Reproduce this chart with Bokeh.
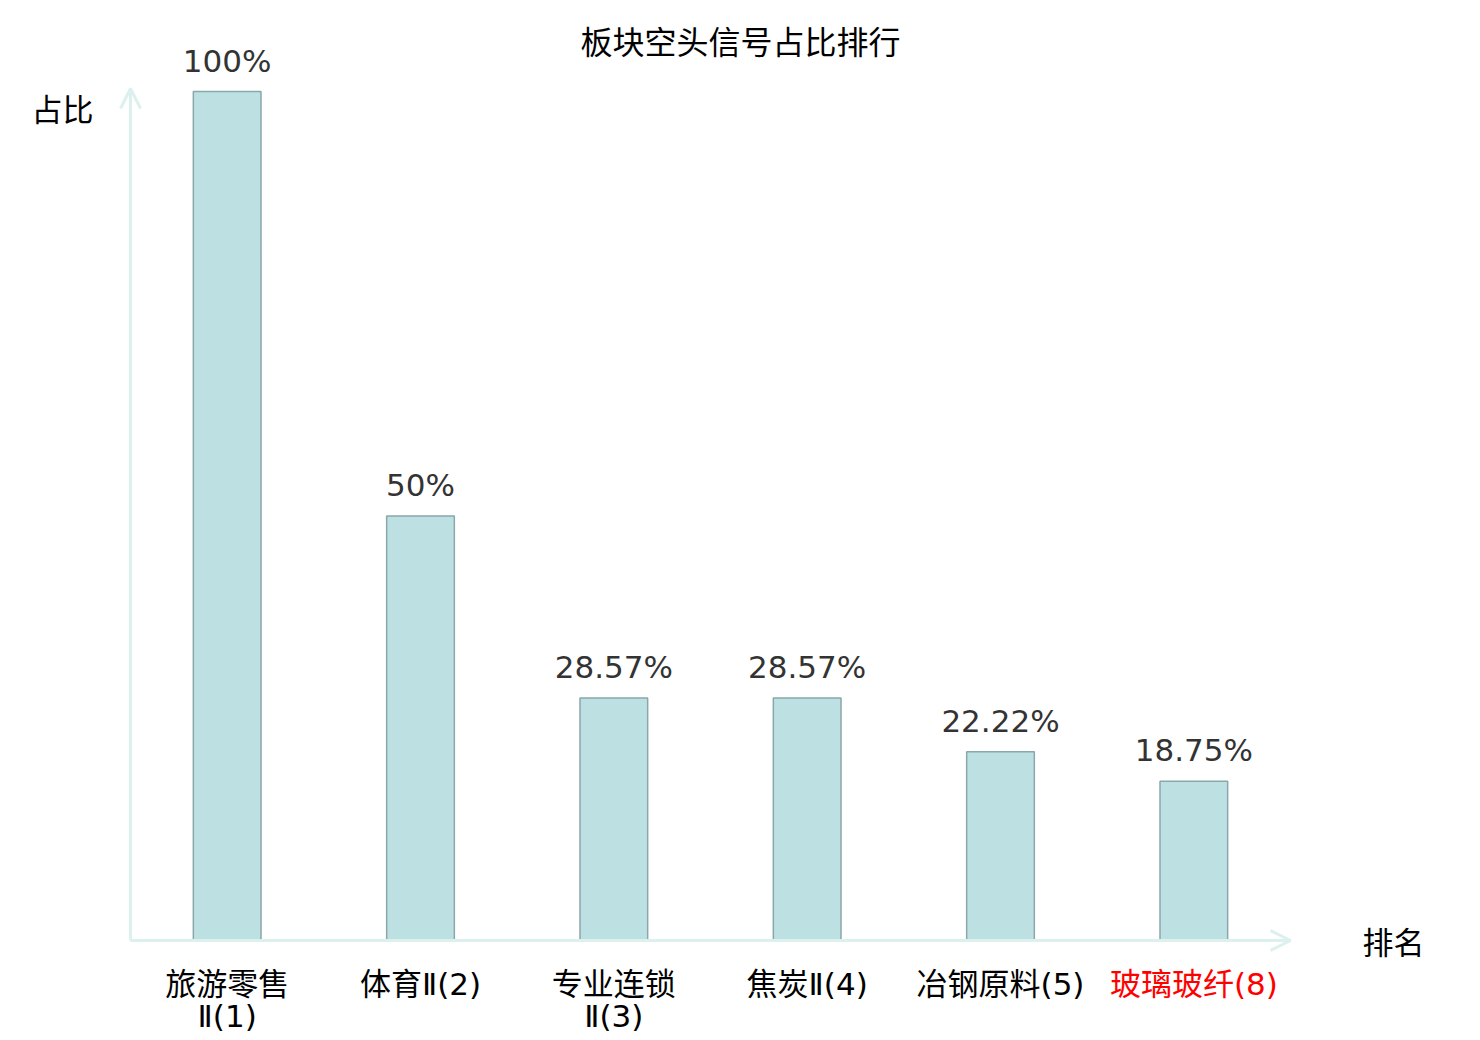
from bokeh.plotting import figure
from bokeh.models import ColumnDataSource, Arrow, OpenHead, Range1d
from bokeh.core.properties import value
from bokeh.embed import file_html
from bokeh.resources import INLINE

categories = ["旅游零售\nⅡ(1)", "体育Ⅱ(2)", "专业连锁\nⅡ(3)", "焦炭Ⅱ(4)", "冶钢原料(5)", "玻璃玻纤(8)"]
values = [100, 50, 28.57, 28.57, 22.22, 18.75]
value_labels = ["100%", "50%", "28.57%", "28.57%", "22.22%", "18.75%"]
label_colors = ["#000000", "#000000", "#000000", "#000000", "#000000", "#ff0000"]
title_text = "板块空头信号占比排行"
x_name = "排名"
y_name = "占比"

CJK = "DejaVu Sans, Noto Sans CJK SC"
CJK_ONLY = "Noto Sans CJK SC"
AXIS_COLOR = "#dcf1ee"

W, H = 1480, 1040
# layout in pixels (page coords)
X0, X1 = 130, 1290      # x axis extent
Y0, Y100 = 940, 91      # y=0 and y=100 pixels
n = len(categories)
sx = (X1 - X0) / n       # px per category
sy = (Y0 - Y100) / 100   # px per unit

xs = [i + 0.5 for i in range(n)]
line1 = [c.split("\n")[0] for c in categories]
line2 = [c.split("\n")[1] if "\n" in c else "" for c in categories]
src = ColumnDataSource(dict(x=xs, top=values, vl=value_labels, l1=line1, l2=line2, col=label_colors,
                            zero=[0] * n))

p = figure(width=W, height=H, output_backend="svg", toolbar_location=None,
           x_range=Range1d(-X0 / sx, (W - X0) / sx), y_range=Range1d((Y0 - H) / sy, Y0 / sy),
           min_border=0, min_border_left=0, min_border_right=0, min_border_top=0, min_border_bottom=0)
p.outline_line_color = None
p.xgrid.visible = False
p.ygrid.visible = False
p.axis.visible = False
p.background_fill_color = "white"
p.border_fill_color = "white"

p.vbar(x="x", top="top", width=0.35, source=src, fill_color="#bde0e3", line_color="#8aa7aa", line_width=1.5)

ytop = (Y0 - 88) / sy
# axes as arrows
p.add_layout(Arrow(end=OpenHead(size=20, line_color=AXIS_COLOR, line_width=3),
                   x_start=0, y_start=0, x_end=n, y_end=0,
                   line_color=AXIS_COLOR, line_width=3))
p.add_layout(Arrow(end=OpenHead(size=20, line_color=AXIS_COLOR, line_width=3),
                   x_start=0, y_start=0, x_end=0, y_end=ytop,
                   line_color=AXIS_COLOR, line_width=3))

# value labels
p.text(x="x", y="top", text="vl", source=src, text_align="center",
       text_baseline="alphabetic", y_offset=-31, text_font=value("DejaVu Sans"),
       text_font_size="31px", text_color="#333333")

# category labels (two lines)
p.text(x="x", y="zero", text="l1", source=src, text_align="center",
       text_baseline="middle", y_offset=43, text_font=value(CJK),
       text_font_size="31px", text_color="col")
p.text(x="x", y="zero", text="l2", source=src, text_align="center",
       text_baseline="middle", y_offset=75, text_font=value(CJK),
       text_font_size="31px", text_color="col")

# axis names
p.text(x=[n], y=[0], text=[x_name], x_offset=72, text_baseline="middle",
       text_font=value(CJK_ONLY), text_font_size="31px", text_color="#000000")
p.text(x=[0], y=[ytop], text=[y_name], x_offset=-99, y_offset=19, text_baseline="middle",
       text_font=value(CJK_ONLY), text_font_size="31px", text_color="#000000")

p.text(x=[(740 - X0) / sx], y=[ytop], text=[title_text], y_offset=-49,
       text_align="center", text_baseline="middle", text_font=value(CJK_ONLY),
       text_font_size="32px", text_color="#000000")

open("out.html", "w").write(file_html(p, INLINE))
